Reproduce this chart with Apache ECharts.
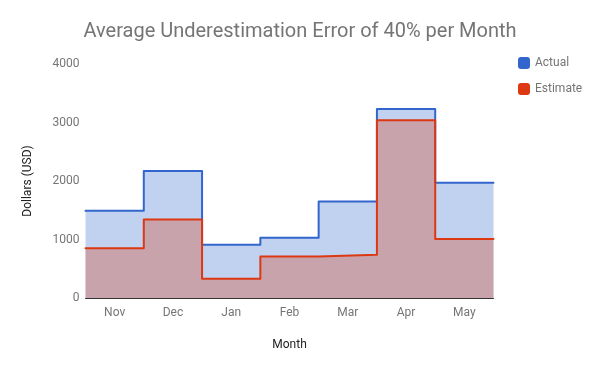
<!DOCTYPE html>
<html>
<head>
<meta charset="utf-8">
<script src="https://cdn.jsdelivr.net/npm/echarts@6/dist/echarts.min.js"></script>
<style>
html,body{margin:0;padding:0;background:#fff;}
#chart{width:600px;height:371px;}
</style>
</head>
<body>
<div id="chart"></div>
<script>
var months = ['Nov', 'Dec', 'Jan', 'Feb', 'Mar', 'Apr', 'May'];
var actual = [1490, 2170, 910, 1030, 1650, 3230, 1970];
var estimate = [850, 1340, 330, 710, 740, 3040, 1010];
var yTicks = [0, 1000, 2000, 3000, 4000];

function stepData(vals) {
  var d = vals.map(function (v, i) { return [i, v]; });
  d.push([vals.length, vals[vals.length - 1]]);
  return d;
}

var chart = echarts.init(document.getElementById('chart'));
var font = 'Roboto';
chart.setOption({
  animation: false,
  backgroundColor: '#ffffff',
  title: {
    text: 'Average Underestimation Error of 40% per Month',
    left: 'center',
    top: 17,
    textStyle: { fontFamily: font, fontSize: 20, fontWeight: 'normal', color: '#757575' }
  },
  legend: {
    orient: 'vertical',
    left: 513,
    top: 52,
    itemWidth: 12,
    itemHeight: 12,
    itemGap: 14,
    icon: 'roundRect',
    textStyle: { fontFamily: font, fontSize: 12, color: '#757575' },
    data: ['Actual', 'Estimate']
  },
  grid: { left: 85.5, right: 106.5, top: 64, bottom: 73, containLabel: false },
  xAxis: [
    {
      type: 'category',
      data: months,
      boundaryGap: true,
      name: 'Month',
      nameLocation: 'middle',
      nameGap: 41,
      nameTextStyle: { fontFamily: font, fontSize: 12, color: '#222222' },
      axisLine: { show: true, lineStyle: { color: '#333333', width: 1 } },
      axisTick: { show: false },
      axisLabel: { fontFamily: font, fontSize: 12, color: '#757575', margin: 9 },
      splitLine: { show: false },
      z: 10
    },
    {
      type: 'value',
      min: 0,
      max: months.length,
      show: false,
      splitLine: { show: false }
    }
  ],
  yAxis: {
    type: 'value',
    min: yTicks[0],
    max: yTicks[yTicks.length - 1],
    interval: 1000,
    name: 'Dollars (USD)',
    nameLocation: 'middle',
    nameGap: 52,
    nameTextStyle: { fontFamily: font, fontSize: 12, color: '#222222' },
    axisLine: { show: false },
    axisTick: { show: false },
    splitLine: { show: false },
    axisLabel: { fontFamily: font, fontSize: 12, color: '#757575', margin: 6,
      formatter: function (v) { return String(v); } }
  },
  series: [
    {
      name: 'Actual',
      type: 'line',
      xAxisIndex: 1,
      step: 'end',
      data: stepData(actual),
      symbol: 'none',
      color: '#3366cc',
      lineStyle: { color: '#3366cc', width: 2, join: 'round', cap: 'round' },
      areaStyle: { color: '#3366cc', opacity: 0.3 }
    },
    {
      name: 'Estimate',
      type: 'line',
      xAxisIndex: 1,
      step: 'end',
      data: stepData(estimate),
      symbol: 'none',
      color: '#dc3912',
      lineStyle: { color: '#dc3912', width: 2, join: 'round', cap: 'round' },
      areaStyle: { color: '#dc3912', opacity: 0.3 }
    }
  ]
});
</script>
</body>
</html>
